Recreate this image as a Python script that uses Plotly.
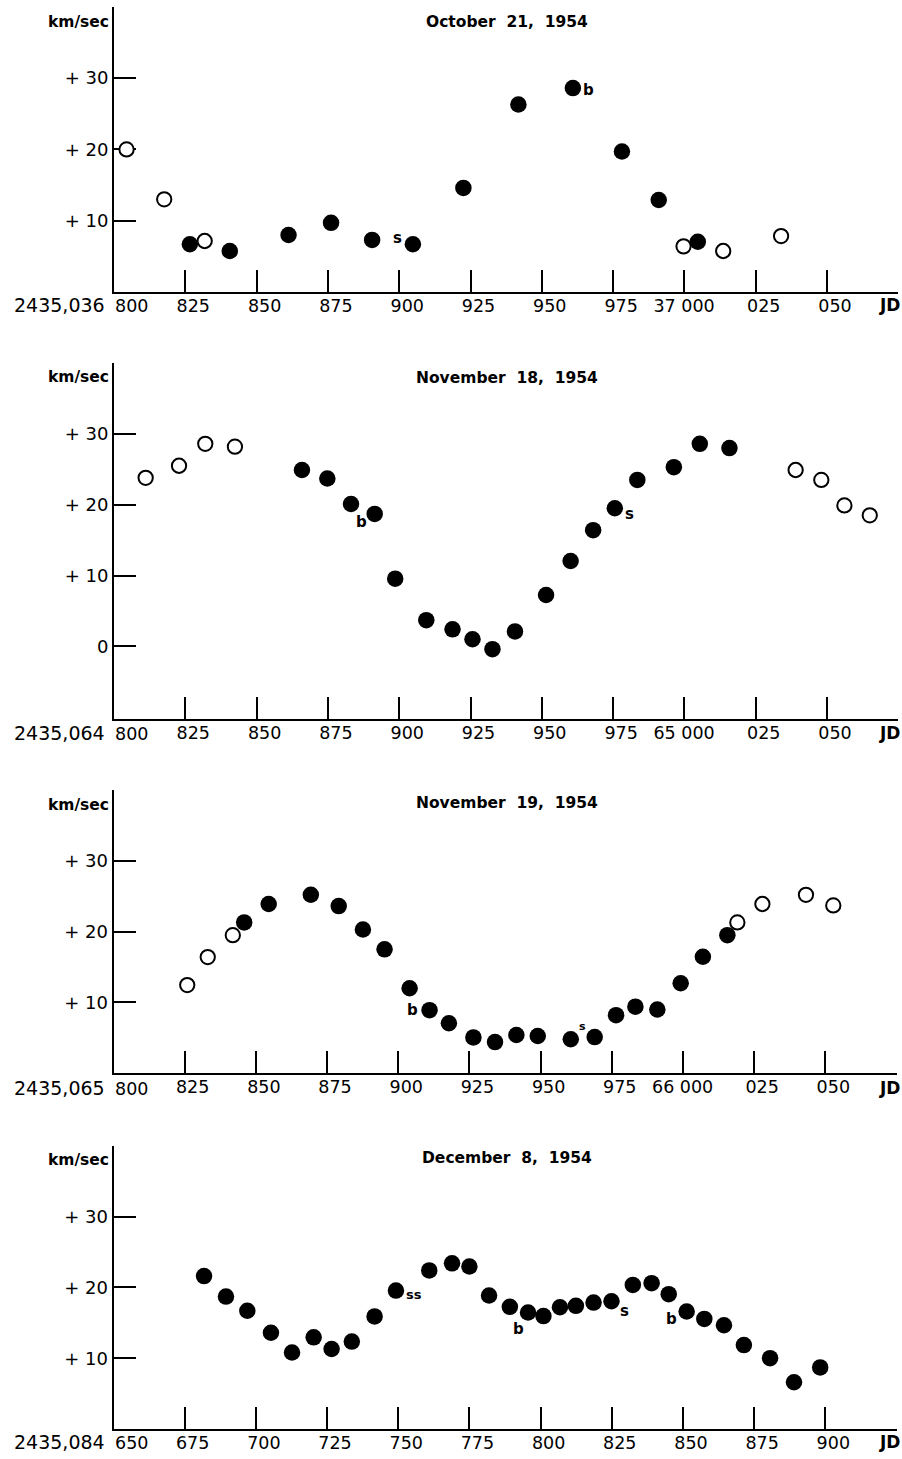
import plotly.graph_objects as go

W, H = 902, 1459
NB = "\u00a0"

# ---------------- data ----------------
titles = ["October 21, 1954", "November 18, 1954", "November 19, 1954", "December 8, 1954"]
jd_bases = ["2435,036", "2435,064", "2435,065", "2435,084"]

p1_open_x = [804.4, 817.6, 831.8, 999.7, 1013.6, 1033.9]
p1_open_y = [20.0, 13.0, 7.15, 6.4, 5.75, 7.85]
p1_fill_x = [826.6, 840.6, 861.2, 876.1, 890.5, 904.8, 922.5, 941.8, 960.9, 978.1, 991.0, 1004.7]
p1_fill_y = [6.7, 5.75, 8.0, 9.7, 7.3, 6.7, 14.6, 26.3, 28.6, 19.7, 12.9, 7.05]

p2_open_x = [811.1, 822.8, 832.0, 842.4, 1039.0, 1048.0, 1056.1, 1065.0]
p2_open_y = [23.8, 25.5, 28.6, 28.2, 24.9, 23.5, 19.9, 18.5]
p2_fill_x = [865.9, 874.8, 883.1, 891.4, 898.6, 909.5, 918.7, 925.7, 932.7, 940.6, 951.5,
             960.1, 968.0, 975.6, 983.5, 996.3, 1005.4, 1015.8]
p2_fill_y = [24.9, 23.7, 20.1, 18.7, 9.55, 3.7, 2.4, 1.0, -0.4, 2.1, 7.25,
             12.05, 16.4, 19.5, 23.5, 25.3, 28.6, 28.0]

p3_open_x = [825.9, 833.1, 841.9, 1019.1, 1027.9, 1043.2, 1052.8]
p3_open_y = [12.45, 16.4, 19.5, 21.3, 23.9, 25.2, 23.7]
p3_fill_x = [845.9, 854.5, 869.3, 879.1, 887.6, 895.2, 904.0, 911.0, 917.8, 926.4, 934.0,
             941.5, 949.0, 960.6, 969.0, 976.5, 983.3, 991.0, 999.2, 1007.0, 1015.6]
p3_fill_y = [21.3, 23.9, 25.2, 23.6, 20.3, 17.5, 12.0, 8.9, 7.05, 5.05, 4.4,
             5.4, 5.25, 4.8, 5.1, 8.2, 9.4, 9.0, 12.7, 16.45, 19.5]

p4_open_x = []
p4_open_y = []
p4_fill_x = [681.8, 689.5, 697.0, 705.3, 712.7, 720.3, 726.6, 733.7, 741.7, 749.2, 760.9,
             768.9, 775.0, 781.9, 789.2, 795.6, 801.0, 806.8, 812.4, 818.6, 824.9, 832.4,
             839.0, 845.0, 851.3, 857.5, 864.4, 871.4, 880.6, 889.0, 898.2]
p4_fill_y = [21.6, 18.7, 16.7, 13.6, 10.8, 12.95, 11.3, 12.35, 15.9, 19.55, 22.4,
             23.4, 22.95, 18.85, 17.25, 16.45, 15.95, 17.2, 17.4, 17.85, 18.05, 20.35,
             20.6, 19.05, 16.6, 15.55, 14.65, 11.85, 10.0, 6.6, 8.7]

x_tickvals_a = [800, 825, 850, 875, 900, 925, 950, 975, 1000, 1025, 1050]
p1_xticktext = ["800", "825", "850", "875", "900", "925", "950", "975", "37 000", "025", "050"]
p2_xticktext = ["800", "825", "850", "875", "900", "925", "950", "975", "65 000", "025", "050"]
p3_xticktext = ["800", "825", "850", "875", "900", "925", "950", "975", "66 000", "025", "050"]
x_tickvals_b = [650, 675, 700, 725, 750, 775, 800, 825, 850, 875, 900]
p4_xticktext = ["650", "675", "700", "725", "750", "775", "800", "825", "850", "875", "900"]

y_tickvals_a = [10, 20, 30]
y_ticktext_a = ["+10", "+20", "+30"]
y_tickvals_b = [0, 10, 20, 30]
y_ticktext_b = ["0", "+10", "+20", "+30"]

# point flags: (index into filled series, text)
p1_flags = [(5, "s"), (8, "b")]
p2_flags = [(2, "b"), (13, "s")]
p3_flags = [(7, "b"), (14, "s")]
p4_flags = [(9, "ss"), (14, "b"), (20, "s"), (24, "b")]

# ---------------- layout geometry (pixels) ----------------
panels = [
    dict(ox=p1_open_x, oy=p1_open_y, fx=p1_fill_x, fy=p1_fill_y, xt=x_tickvals_a, xtt=p1_xticktext,
         yt=y_tickvals_a, ytt=y_ticktext_a, xr=[800, 1075], yr=[0, 40],
         px=(114, 898.3), py=(292, 6.8), flags=p1_flags,
         fl_off=[(-15, 6, 15), (16, -2, 15)], title_y=22, km_y=22, base_y=305),
    dict(ox=p2_open_x, oy=p2_open_y, fx=p2_fill_x, fy=p2_fill_y, xt=x_tickvals_a, xtt=p2_xticktext,
         yt=y_tickvals_b, ytt=y_ticktext_b, xr=[800, 1075], yr=[-10.25, 40],
         px=(114, 898.3), py=(718.9, 363.1), flags=p2_flags,
         fl_off=[(10, -18, 15), (15, -6, 15)], title_y=378, km_y=377, base_y=732.5),
    dict(ox=p3_open_x, oy=p3_open_y, fx=p3_fill_x, fy=p3_fill_y, xt=x_tickvals_a, xtt=p3_xticktext,
         yt=y_tickvals_a, ytt=y_ticktext_a, xr=[800, 1075], yr=[0, 40],
         px=(113.5, 896.5), py=(1073.2, 790), flags=p3_flags,
         fl_off=[(-17, 0, 15), (-12, 11, 11)], title_y=803, km_y=805, base_y=1088),
    dict(ox=p4_open_x, oy=p4_open_y, fx=p4_fill_x, fy=p4_fill_y, xt=x_tickvals_b, xtt=p4_xticktext,
         yt=y_tickvals_a, ytt=y_ticktext_a, xr=[650, 925], yr=[0, 40],
         px=(113.5, 896.5), py=(1429, 1145.8), flags=p4_flags,
         fl_off=[(18, -4, 13), (9, -22, 15), (13, -10, 15), (-15, -8, 15)],
         title_y=1158, km_y=1160, base_y=1442),
]

FONT = "DejaVu Sans"
fig = go.Figure()
layout = dict(width=W, height=H, margin=dict(l=0, r=0, t=0, b=0, autoexpand=False),
              paper_bgcolor="white", plot_bgcolor="white", showlegend=False,
              font=dict(family=FONT, color="black"))
annotations = []

def fmt_xtext(texts):
    out = []
    for i, t in enumerate(texts):
        if i == 0:
            t = ""          # origin label drawn left-aligned at the axis (see below)
        elif " " in t:
            t = t + NB * 3
        out.append(t)
    return out

def spaced(t):
    return t.replace(" ", NB * 2)

for k, p in enumerate(panels):
    n = "" if k == 0 else str(k + 1)
    xa, ya = "x" + n, "y" + n
    fig.add_trace(go.Scatter(x=p["fx"], y=p["fy"], mode="markers", xaxis=xa, yaxis=ya,
                             marker=dict(symbol="circle", size=16.5, color="black",
                                         line=dict(width=0)), hoverinfo="skip"))
    if p["ox"]:
        fig.add_trace(go.Scatter(x=p["ox"], y=p["oy"], mode="markers", xaxis=xa, yaxis=ya,
                                 marker=dict(symbol="circle", size=14.3, color="white",
                                             line=dict(width=2, color="black")), hoverinfo="skip"))
    layout["xaxis" + n] = dict(
        domain=[p["px"][0] / W, p["px"][1] / W], range=p["xr"], anchor=ya, automargin=False,
        showgrid=False, zeroline=False, showline=True, linewidth=2, linecolor="black",
        ticks="inside", ticklen=22, tickwidth=1.6, tickcolor="black", layer="below traces",
        tickmode="array", tickvals=p["xt"], ticktext=fmt_xtext(p["xtt"]),
        ticklabelshift=8, ticklabelstandoff=-3,
        tickfont=dict(family=FONT, size=17.5, color="black"), tickangle=0,
        fixedrange=True)
    layout["yaxis" + n] = dict(
        domain=[1 - p["py"][0] / H, 1 - p["py"][1] / H], range=p["yr"], anchor=xa, automargin=False,
        showgrid=False, zeroline=False, showline=True, linewidth=2, linecolor="black",
        ticks="inside", ticklen=22, tickwidth=1.6, tickcolor="black", layer="below traces",
        tickmode="array", tickvals=p["yt"],
        ticktext=[t.replace("+", "+" + NB) for t in p["ytt"]],
        tickfont=dict(family=FONT, size=18, color="black"), fixedrange=True)
    # origin tick label, left-aligned at the y axis
    annotations.append(dict(x=p["xt"][0], y=1 - p["base_y"] / H, xref=xa, yref="paper",
                            text=p["xtt"][0], showarrow=False, xanchor="left", yanchor="middle",
                            xshift=-1, yshift=-1, font=dict(family=FONT, size=17.5, color="black")))
    # flags next to points
    for (idx, txt), (dx, dy, fs) in zip(p["flags"], p["fl_off"]):
        annotations.append(dict(x=p["fx"][idx], y=p["fy"][idx], xref=xa, yref=ya, text=txt,
                                showarrow=False, xshift=dx, yshift=dy,
                                font=dict(family=FONT, size=fs, color="black", weight="bold")))
    # title, unit, JD base, JD
    annotations.append(dict(x=507 / W, y=1 - p["title_y"] / H, xref="paper", yref="paper",
                            text=spaced(titles[k]), showarrow=False, xanchor="center", yanchor="middle",
                            font=dict(family=FONT, size=15.5, color="black", weight="bold")))
    annotations.append(dict(x=111 / W, y=1 - p["km_y"] / H, xref="paper", yref="paper",
                            text="km/sec", showarrow=False, xanchor="right", yanchor="middle",
                            font=dict(family=FONT, size=15.5, color="black", weight="bold")))
    annotations.append(dict(x=107 / W, y=1 - p["base_y"] / H, xref="paper", yref="paper",
                            text=jd_bases[k], showarrow=False, xanchor="right", yanchor="middle",
                            font=dict(family=FONT, size=19, color="black")))
    annotations.append(dict(x=877 / W, y=1 - p["base_y"] / H, xref="paper", yref="paper",
                            text="JD", showarrow=False, xanchor="left", yanchor="middle",
                            font=dict(family=FONT, size=17, color="black", weight="bold")))

layout["annotations"] = annotations
fig.update_layout(**layout)
fig.write_html("out.html")
